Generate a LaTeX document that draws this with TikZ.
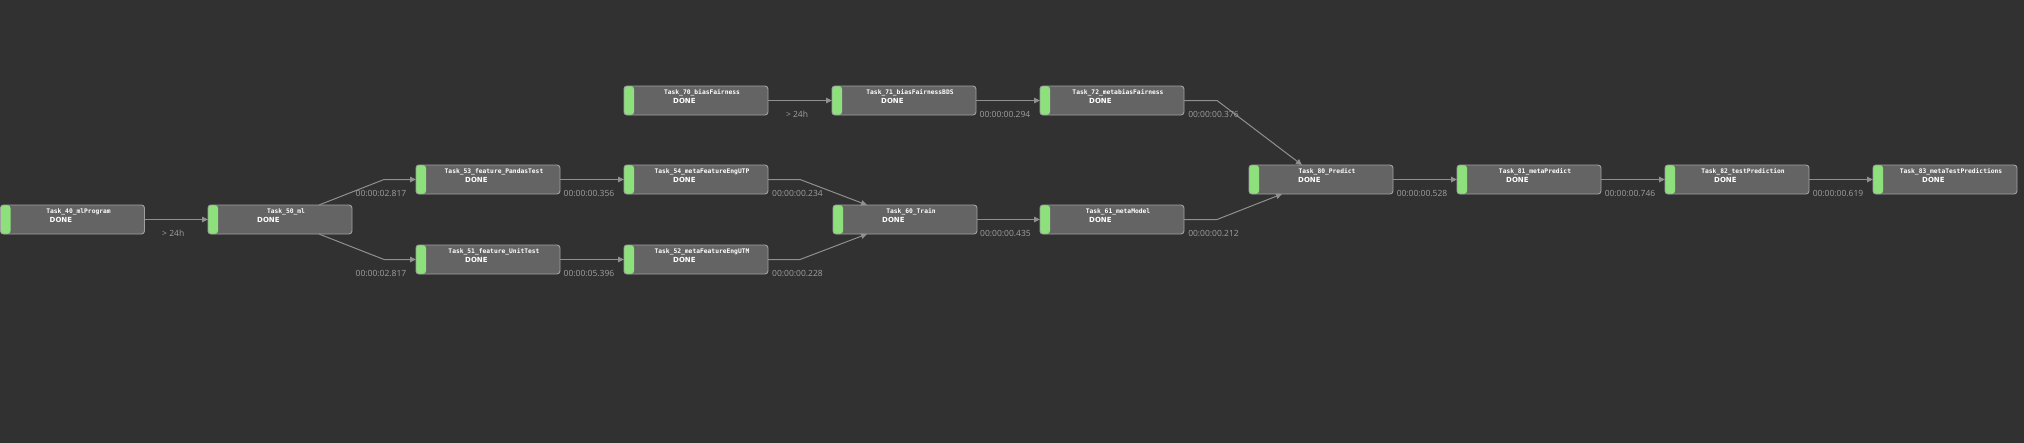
\documentclass[tikz,border=0pt]{standalone}
\usepackage{fontspec}
\usetikzlibrary{arrows.meta,calc}
\newfontfamily\lblfont{Open Sans}
\newfontfamily\ttlfont{DejaVu Sans Mono}
\newfontfamily\donefont{DejaVu Sans}
\definecolor{bgc}{HTML}{313131}
\definecolor{nodefill}{HTML}{646464}
\definecolor{nodeborder}{HTML}{A0A0A0}
\definecolor{stripe}{HTML}{8DE07B}
\definecolor{edgec}{HTML}{909090}
\definecolor{lblc}{HTML}{A0A0A0}
\tikzset{
  taskbox/.style={rectangle, draw=nodeborder, fill=nodefill, line width=0.9pt,
    rounded corners=3pt, minimum width=144pt, minimum height=29pt,
    inner sep=0pt, outer sep=0pt, anchor=west,
    path picture={\fill[stripe] (path picture bounding box.north west) rectangle ([xshift=10pt]path picture bounding box.south west);}},
  ttl/.style={text=white, font=\ttlfont\bfseries\fontsize{6.3}{7}\selectfont, inner sep=0pt, anchor=base},
  donetxt/.style={text=white, font=\donefont\bfseries\fontsize{7}{8}\selectfont, inner sep=0pt, anchor=base west},
  edge/.style={draw=edgec, line width=1pt, -{Triangle[length=6pt,width=5.5pt]}},
  lbl/.style={text=lblc, font=\lblfont\fontsize{8.5}{10}\selectfont, inner sep=0pt, anchor=base},
}
\newcommand\tasknode[4]{%
  \node[taskbox] (#1) at (#2,#3) {};
  \node[ttl] (#1t) at ([xshift=78pt,yshift=-8pt]#1.north west) {#4};
  \node[donetxt] (#1d) at ([xshift=49pt,yshift=-2.6pt]#1.west) {DONE};
}
\begin{document}
\begin{tikzpicture}[x=1pt,y=-1pt]
\useasboundingbox (0,0) rectangle (2024,442);
\fill[bgc] (-3,-3) rectangle (2027,445);

\tasknode{n40}{0.5}{219.5}{Task\_40\_mlProgram}
\tasknode{n50}{208}{219.5}{Task\_50\_ml}
\tasknode{n53}{416}{179.5}{Task\_53\_feature\_PandasTest}
\tasknode{n51}{416}{259.5}{Task\_51\_feature\_UnitTest}
\tasknode{n70}{624}{100.5}{Task\_70\_biasFairness}
\tasknode{n54}{624}{179.5}{Task\_54\_metaFeatureEngUTP}
\tasknode{n52}{624}{259.5}{Task\_52\_metaFeatureEngUTM}
\tasknode{n71}{832}{100.5}{Task\_71\_biasFairnessBDS}
\tasknode{n60}{833}{219.5}{Task\_60\_Train}
\tasknode{n72}{1040}{100.5}{Task\_72\_metabiasFairness}
\tasknode{n61}{1040}{219.5}{Task\_61\_metaModel}
\tasknode{n80}{1249}{179.5}{Task\_80\_Predict}
\tasknode{n81}{1457}{179.5}{Task\_81\_metaPredict}
\tasknode{n82}{1665}{179.5}{Task\_82\_testPrediction}
\tasknode{n83}{1873}{179.5}{Task\_83\_metaTestPredictions}

% edges
\draw[edge] (n40.east) -- (n50.west);
\draw[edge] ([xshift=-33pt]n50.north east) -- ($(n50.east |- n53.west)+(32,0)$) -- (n53.west);
\draw[edge] ([xshift=-33pt]n50.south east) -- ($(n50.east |- n51.west)+(32,0)$) -- (n51.west);
\draw[edge] (n53.east) -- (n54.west);
\draw[edge] (n51.east) -- (n52.west);
\draw[edge] (n54.east) -- ++(32,0) -- ([xshift=34pt]n60.north west);
\draw[edge] (n52.east) -- ++(32,0) -- ([xshift=34pt]n60.south west);
\draw[edge] (n70.east) -- (n71.west);
\draw[edge] (n71.east) -- (n72.west);
\draw[edge] (n72.east) -- ++(33,0) -- ([xshift=53pt]n80.north west);
\draw[edge] (n60.east) -- (n61.west);
\draw[edge] (n61.east) -- ++(33,0) -- ([xshift=33pt]n80.south west);
\draw[edge] (n80.east) -- (n81.west);
\draw[edge] (n81.east) -- (n82.west);
\draw[edge] (n82.east) -- (n83.west);

% edge labels
\node[lbl] (l4050) at ($(n40.east)!0.5!(n50.west)+(-3,17)$) {> 24h};
\node[lbl] (l5053) at ($(n50.east |- n53.west)!0.5!(n53.west)+(-3,17)$) {00:00:02.817};
\node[lbl] (l5051) at ($(n50.east |- n51.west)!0.5!(n51.west)+(-3,17)$) {00:00:02.817};
\node[lbl] (l5354) at ($(n53.east)!0.5!(n54.west)+(-3,17)$) {00:00:00.356};
\node[lbl] (l5152) at ($(n51.east)!0.5!(n52.west)+(-3,17)$) {00:00:05.396};
\node[lbl] (l5460) at ($(n54.east)!0.5!(n60.west |- n54.east)+(-3,17)$) {00:00:00.234};
\node[lbl] (l5260) at ($(n52.east)!0.5!(n60.west |- n52.east)+(-3,17)$) {00:00:00.228};
\node[lbl] (l7071) at ($(n70.east)!0.5!(n71.west)+(-3,17)$) {> 24h};
\node[lbl] (l7172) at ($(n71.east)!0.5!(n72.west)+(-3,17)$) {00:00:00.294};
\node[lbl] (l7280) at ($(n72.east)!0.5!(n80.west |- n72.east)+(-3,17)$) {00:00:00.376};
\node[lbl] (l6061) at ($(n60.east)!0.5!(n61.west)+(-3,17)$) {00:00:00.435};
\node[lbl] (l6180) at ($(n61.east)!0.5!(n80.west |- n61.east)+(-3,17)$) {00:00:00.212};
\node[lbl] (l8081) at ($(n80.east)!0.5!(n81.west)+(-3,17)$) {00:00:00.528};
\node[lbl] (l8182) at ($(n81.east)!0.5!(n82.west)+(-3,17)$) {00:00:00.746};
\node[lbl] (l8283) at ($(n82.east)!0.5!(n83.west)+(-3,17)$) {00:00:00.619};
\end{tikzpicture}
\end{document}
